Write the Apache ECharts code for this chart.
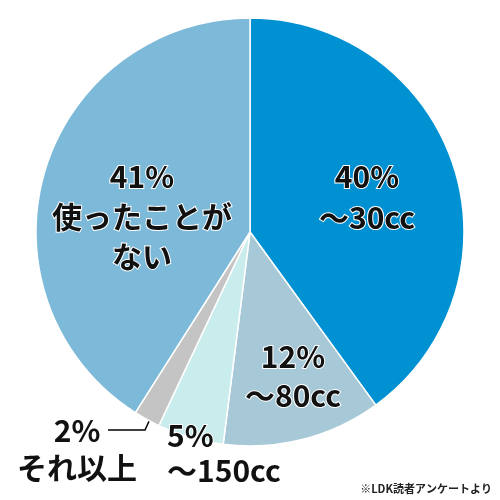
<!DOCTYPE html>
<html>
<head>
<meta charset="utf-8">
<script src="https://cdn.jsdelivr.net/npm/echarts@6/dist/echarts.min.js"></script>
<style>html,body{margin:0;padding:0;background:#fff;}#c{width:500px;height:500px;}</style>
</head>
<body>
<div id="c"></div>
<script>
const categories = ['～30cc', '～80cc', '～150cc', 'それ以上', '使ったことがない'];
const percents = [40, 12, 5, 2, 41];
const colors = ['#0091d3', '#a7c8d6', '#c9ecec', '#c4c4c4', '#7db9d8'];
// label placement (text only)
const labelPos = [
  {x: 367, y: 197, align: 'center', lh: 41},
  {x: 293, y: 376, align: 'center', lh: 39},
  {x: 167, y: 453, align: 'left', lh: 35},
  {x: 77, y: 449, align: 'center', lh: 37},
  {x: 142, y: 217, align: 'center', lh: 40}
];
const splitLabel = function (name) {
  return name === '使ったことがない' ? '使ったことが\nない' : name;
};
const chart = echarts.init(document.getElementById('c'), null, {renderer: 'canvas'});
chart.setOption({
  animation: false,
  backgroundColor: '#fff',
  graphic: [{
    type: 'text', right: 8, top: 483,
    style: {text: '※LDK読者アンケートより', font: 'bold 11px "Noto Sans CJK JP"', fill: '#222'}
  }],
  series: [{
    type: 'pie',
    center: [250, 232],
    radius: 214,
    startAngle: 90,
    clockwise: true,
    silent: true,
    itemStyle: {borderColor: '#fff', borderWidth: 1.5},
    label: {
      show: true,
      position: 'inside',
      fontFamily: '"Noto Sans CJK JP"',
      fontWeight: 'bold',
      fontSize: 30,
      color: '#111',
      textBorderColor: '#fff',
      textBorderWidth: 2,
      overflow: 'none',
      formatter: function (p) { return percents[p.dataIndex] + '%\n' + splitLabel(categories[p.dataIndex]); }
    },
    labelLine: {show: false},
    labelLayout: function (p) {
      const l = labelPos[p.dataIndex];
      const r = {x: l.x, y: l.y, align: l.align, verticalAlign: 'middle'};
      if (p.dataIndex === 3) {
        r.labelLinePoints = [[156, 406], [145, 430], [108, 430]];
      }
      return r;
    },
    data: categories.map(function (c, i) {
      const d = {name: c, value: percents[i], itemStyle: {color: colors[i]},
        label: {lineHeight: labelPos[i].lh, align: labelPos[i].align}};
      if (i === 3) {
        d.label.position = 'outside';
        d.label.overflow = 'none';
        d.label.width = 160;
        d.labelLine = {show: true, lineStyle: {color: '#000', width: 1.5}};
      }
      return d;
    })
  }]
});
</script>
</body>
</html>
